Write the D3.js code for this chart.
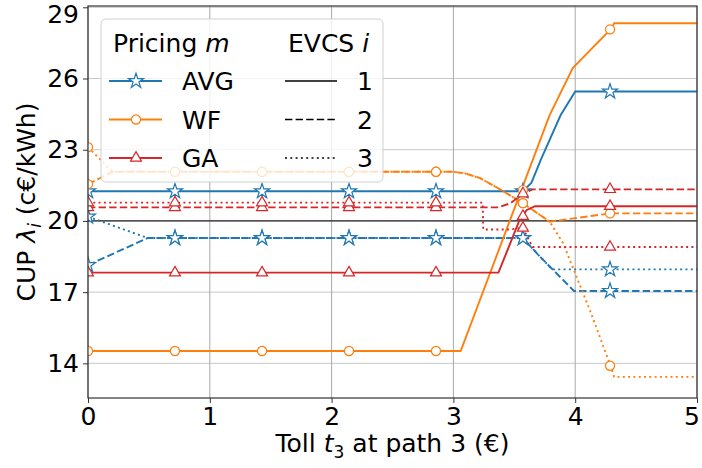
<!DOCTYPE html>
<html>
<head>
<meta charset="utf-8">
<script src="https://cdn.jsdelivr.net/npm/d3@7"></script>
<style>
  body { margin: 0; background: #fff; }
  text { font-family: "DejaVu Sans", sans-serif; fill: #000; }
</style>
</head>
<body>
<div id="chart"></div>
<script>
// polyline vertices [toll, CUP]
const avg1 = [[0, 21.25], [3.57, 21.25], [3.64, 21.6], [3.72, 22.6], [3.88, 24.45], [4.0, 25.45], [5, 25.45]]
const avg2 = [[0, 18.14], [0.49, 19.28], [3.57, 19.28], [3.71, 18.5], [3.99, 17.05], [5, 17.05]]
const avg3 = [[0, 20.18], [0.49, 19.28], [3.57, 19.28], [3.71, 18.5], [3.81, 17.96], [5, 17.96]]
const wf1 = [[0, 14.52], [3.06, 14.52], [3.79, 24.46], [3.98, 26.44], [4.29, 28.07], [4.32, 28.33], [5, 28.33]]
const wf2 = [[0, 21.55], [0.2, 22.07], [3.0, 22.07], [3.1, 22.0], [3.22, 21.8], [3.36, 21.4], [3.49, 21.0], [3.57, 20.75], [3.79, 19.97], [4.29, 20.32], [5, 20.32]]
const wf3 = [[0, 23.11], [0.2, 22.07], [3.0, 22.07], [3.1, 22.0], [3.22, 21.8], [3.36, 21.4], [3.49, 21.0], [3.57, 20.75], [3.79, 19.97], [3.9, 19.07], [4.12, 16.25], [4.29, 13.9], [4.32, 13.43], [5, 13.43]]
const ga1 = [[0, 17.82], [3.37, 17.82], [3.54, 20.0], [3.6, 20.45], [3.67, 20.62], [5, 20.62]]
const ga2 = [[0, 20.57], [3.37, 20.57], [3.47, 20.75], [3.57, 21.15], [3.65, 21.33], [5, 21.33]]
const ga3 = [[0, 20.77], [3.24, 20.77], [3.245, 19.64], [3.45, 19.64], [3.57, 19.7], [3.65, 18.9], [5, 18.9]]

// marker positions
const markerX = [0, 0.714, 1.429, 2.143, 2.857, 3.571, 4.286]
const avg1Marks = [21.25, 21.25, 21.25, 21.25, 21.25, 21.25, 25.45]
const avg2Marks = [18.14, 19.28, 19.28, 19.28, 19.28, 19.28, 17.05]
const avg3Marks = [20.18, 19.28, 19.28, 19.28, 19.28, 19.28, 17.96]
const wf1Marks = [14.52, 14.52, 14.52, 14.52, 14.52, 21.3, 28.07]
const wf2Marks = [21.55, 22.07, 22.07, 22.07, 22.07, 20.75, 20.32]
const wf3Marks = [23.11, 22.07, 22.07, 22.07, 22.07, 20.75, 13.9]
const ga1Marks = [17.82, 17.82, 17.82, 17.82, 17.82, 20.2, 20.62]
const ga2Marks = [20.57, 20.57, 20.57, 20.57, 20.57, 21.15, 21.33]
const ga3Marks = [20.77, 20.77, 20.77, 20.77, 20.77, 19.7, 18.9]

const methods = ["AVG", "WF", "GA"]
const evcs = ["1", "2", "3"]
const xTicks = [0, 1, 2, 3, 4, 5]
const yTicks = [14, 17, 20, 23, 26, 29]
const refLevel = 20

const colors = { AVG: "#1f77b4", WF: "#ff7f0e", GA: "#d62728" }
const dashes = { "1": null, "2": "7.4,3.2", "3": "2,3.3" }
const symbols = { AVG: d3.symbolStar, WF: d3.symbolCircle, GA: d3.symbolTriangle }
const symSize = { AVG: 70, WF: 66, GA: 52 }

const series = [
    { m: "AVG", i: "1", pts: avg1, marks: avg1Marks },
    { m: "AVG", i: "2", pts: avg2, marks: avg2Marks },
    { m: "AVG", i: "3", pts: avg3, marks: avg3Marks },
    { m: "WF", i: "1", pts: wf1, marks: wf1Marks },
    { m: "WF", i: "2", pts: wf2, marks: wf2Marks },
    { m: "WF", i: "3", pts: wf3, marks: wf3Marks },
    { m: "GA", i: "1", pts: ga1, marks: ga1Marks },
    { m: "GA", i: "2", pts: ga2, marks: ga2Marks },
    { m: "GA", i: "3", pts: ga3, marks: ga3Marks }
]

const width = 702
const height = 468
const margin = { left: 88, right: 5, top: 6, bottom: 70 }
const fontSize = 25

const x = d3.scaleLinear().domain([0, 5]).range([margin.left, width - margin.right])
const y = d3.scaleLinear().domain([12.54, 29.055]).range([height - margin.bottom, margin.top])

const svg = d3.select("#chart").append("svg")
    .attr("width", width)
    .attr("height", height)

svg.append("defs").append("clipPath").attr("id", "clip")
    .append("rect")
    .attr("x", x(0)).attr("y", y.range()[1])
    .attr("width", x(5) - x(0)).attr("height", y.range()[0] - y.range()[1])

// grid
svg.append("g").selectAll("line")
    .data(yTicks)
    .enter().append("line")
    .attr("x1", x(0)).attr("x2", x(5))
    .attr("y1", d => y(d)).attr("y2", d => y(d))
    .attr("stroke", "#c8c8c8").attr("stroke-width", 1)

svg.append("g").selectAll("line")
    .data(xTicks)
    .enter().append("line")
    .attr("x1", d => x(d)).attr("x2", d => x(d))
    .attr("y1", y.range()[0]).attr("y2", y.range()[1])
    .attr("stroke", "#a8a8a8").attr("stroke-width", 1)

svg.append("line")
    .attr("x1", x(0)).attr("x2", x(5))
    .attr("y1", y(refLevel)).attr("y2", y(refLevel))
    .attr("stroke", "#222").attr("stroke-width", 1.3)

const line = d3.line().x(d => x(d[0])).y(d => y(d[1]))
const plot = svg.append("g").attr("clip-path", "url(#clip)")

series.forEach(s => {
    plot.append("path")
        .attr("d", line(s.pts))
        .attr("fill", "none")
        .attr("stroke", colors[s.m])
        .attr("stroke-width", 1.9)
        .attr("stroke-dasharray", dashes[s.i])
})

series.forEach(s => {
    plot.append("g").selectAll("path")
        .data(markerX.map((mx, k) => [mx, s.marks[k]]))
        .enter().append("path")
        .attr("d", d3.symbol().type(symbols[s.m]).size(symSize[s.m]))
        .attr("transform", d => `translate(${x(d[0])},${y(d[1])})`)
        .attr("fill", "#fff")
        .attr("stroke", colors[s.m])
        .attr("stroke-width", 1.2)
})

// axes
const xAxis = d3.axisBottom(x).tickValues(xTicks).tickFormat(d3.format("d")).tickSize(5).tickPadding(4)
const yAxis = d3.axisLeft(y).tickValues(yTicks).tickFormat(d3.format("d")).tickSize(5).tickPadding(4)

const gx = svg.append("g")
    .attr("transform", `translate(0,${y.range()[0]})`)
    .call(xAxis)
const gy = svg.append("g")
    .attr("transform", `translate(${x(0)},0)`)
    .call(yAxis)

;[gx, gy].forEach(g => {
    g.select(".domain").remove()
    g.selectAll(".tick line").attr("stroke", "#333")
    g.selectAll(".tick text").style("font-size", fontSize + "px").style("font-family", "DejaVu Sans")
})
// keep the end labels inside the window
gy.selectAll(".tick text").filter(d => d === 29).attr("dy", "0.6em")
gx.selectAll(".tick text").filter(d => d === 5).attr("text-anchor", "end").attr("dx", "0.1em")

svg.append("rect")
    .attr("x", x(0)).attr("y", y.range()[1])
    .attr("width", x(5) - x(0)).attr("height", y.range()[0] - y.range()[1])
    .attr("fill", "none").attr("stroke", "#333").attr("stroke-width", 1.2)

// axis labels
const xl = svg.append("text")
    .attr("x", (x(0) + x(5)) / 2)
    .attr("y", 452)
    .attr("text-anchor", "middle")
    .style("font-size", fontSize + "px")
xl.append("tspan").text("Toll ")
xl.append("tspan").style("font-style", "italic").text("t")
xl.append("tspan").attr("dy", 6).style("font-size", "17px").text("3")
xl.append("tspan").attr("dy", -6).text(" at path 3 (€)")

const yl = svg.append("text")
    .attr("transform", `translate(35,${(y.range()[0] + y.range()[1]) / 2}) rotate(-90)`)
    .attr("text-anchor", "middle")
    .style("font-size", fontSize + "px")
yl.append("tspan").text("CUP ")
yl.append("tspan").style("font-style", "italic").text("λ")
yl.append("tspan").attr("dy", 6).style("font-size", "17px").style("font-style", "italic").text("i")
yl.append("tspan").attr("dy", -6).text(" (c€/kWh)")

// legend
const lg = svg.append("g")
lg.append("rect")
    .attr("x", 101).attr("y", 19)
    .attr("width", 282).attr("height", 163)
    .attr("rx", 5)
    .attr("fill", "#fff").attr("fill-opacity", 0.8)
    .attr("stroke", "#d0d0d0").attr("stroke-width", 1)

const t1 = lg.append("text").attr("x", 113).attr("y", 52).style("font-size", fontSize + "px")
t1.append("tspan").text("Pricing ")
t1.append("tspan").style("font-style", "italic").text("m")
const t2 = lg.append("text").attr("x", 288).attr("y", 52).style("font-size", fontSize + "px")
t2.append("tspan").text("EVCS ")
t2.append("tspan").style("font-style", "italic").text("i")

const rowY = [81, 119.5, 158]
methods.forEach((m, k) => {
    lg.append("line")
        .attr("x1", 109).attr("x2", 162)
        .attr("y1", rowY[k]).attr("y2", rowY[k])
        .attr("stroke", colors[m]).attr("stroke-width", 1.9)
    lg.append("path")
        .attr("d", d3.symbol().type(symbols[m]).size(symSize[m]))
        .attr("transform", `translate(136,${rowY[k]})`)
        .attr("fill", "#fff").attr("stroke", colors[m]).attr("stroke-width", 1.2)
    lg.append("text")
        .attr("x", 182).attr("y", rowY[k] + 9)
        .style("font-size", fontSize + "px")
        .text(m)
})
evcs.forEach((e, k) => {
    lg.append("line")
        .attr("x1", 285).attr("x2", 337)
        .attr("y1", rowY[k]).attr("y2", rowY[k])
        .attr("stroke", "#000").attr("stroke-width", 1.5)
        .attr("stroke-dasharray", dashes[e])
    lg.append("text")
        .attr("x", 357).attr("y", rowY[k] + 9)
        .style("font-size", fontSize + "px")
        .text(e)
})
</script>
</body>
</html>
